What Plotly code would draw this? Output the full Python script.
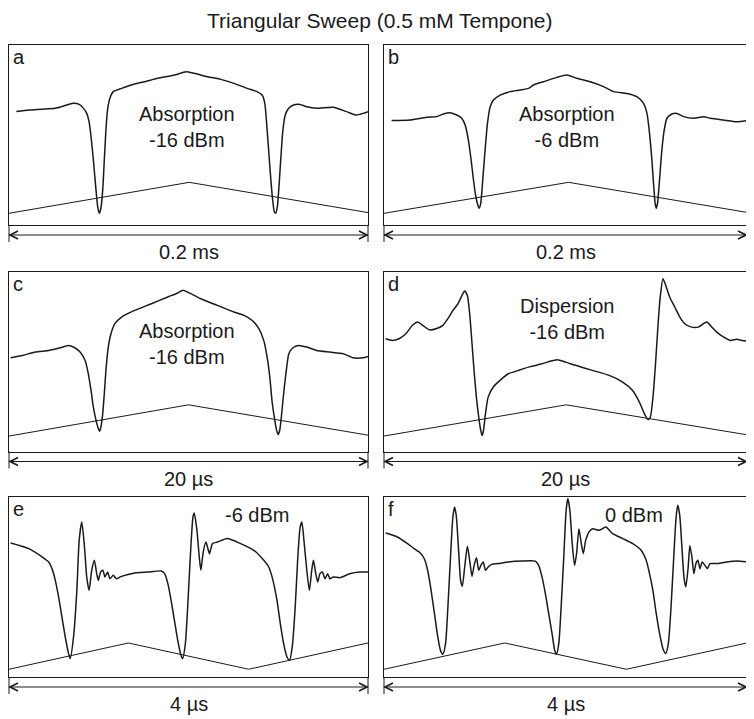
import plotly.graph_objects as go
from plotly.subplots import make_subplots

# ---------------- data ----------------
title_text = "Triangular Sweep (0.5 mM Tempone)"
panel_letters = ["a", "b", "c", "d", "e", "f"]
panel_notes = ["Absorption<br>-16 dBm", "Absorption<br>-6 dBm", "Absorption<br>-16 dBm",
               "Dispersion<br>-16 dBm", "-6 dBm", "0 dBm"]
span_labels = ["0.2 ms", "0.2 ms", "20 µs", "20 µs", "4 µs", "4 µs"]
x_spans = [200, 200, 20, 20, 4, 4]   # full sweep window, µs

# panel a (time µs, signal a.u.)
a_t = [4.1, 11.1, 18.4, 25.8, 32.3, 35.9, 39.1, 41.5, 43.3, 44.6, 45.7, 47.0, 48.3, 49.4, 50.3,
       51.2, 52.2, 53.1, 54.0, 54.9, 56.2, 58.1, 62.7, 70.0, 75.6, 82.9, 92.2, 98.6, 103.2, 110.6,
       118.0, 125.3, 132.7, 138.2, 141.0, 142.5, 143.4, 144.5, 145.6, 146.7, 147.8, 148.6, 149.5,
       150.4, 151.5, 152.6, 153.9, 155.8, 158.5, 162.2, 165.9, 171.4, 180.6, 188.0, 193.5, 197.2, 200]
a_sig = [63.0, 63.9, 64.3, 64.8, 66.7, 67.6, 67.0, 64.8, 62.0, 57.4, 49.1, 36.1, 21.3, 10.2, 6.5,
         9.3, 19.4, 36.1, 52.8, 63.9, 70.4, 74.1, 75.9, 78.3, 79.6, 81.5, 83.3, 85.2, 84.3, 82.4,
         80.9, 78.7, 75.9, 74.1, 72.2, 67.6, 58.3, 43.5, 28.7, 15.7, 7.4, 6.5, 10.2,
         21.3, 38.0, 52.8, 61.1, 64.8, 66.7, 67.0, 65.7, 64.8, 65.4, 63.0, 61.1, 62.0, 63.0]
a_sweep_t = [0, 100.4, 200]
a_sweep = [6.5, 23.7, 6.9]

# panel b
b_t = [4.2, 14.3, 23.5, 29.0, 32.7, 36.4, 40.1, 42.8, 44.7, 46.5, 48.0, 49.3, 50.6, 51.7, 52.4,
       53.3, 54.4, 55.7, 57.0, 58.5, 60.3, 64.0, 69.5, 75.0, 79.6, 82.4, 87.9, 95.2, 100.7, 106.2,
       113.6, 121.0, 126.5, 133.8, 139.3, 143.0, 144.9, 146.3, 147.6, 148.5, 149.4, 150.0, 150.7,
       151.8, 153.1, 154.4, 155.9, 158.6, 161.4, 165.1, 170.6, 176.1, 179.8, 187.1, 194.5, 200]
b_sig = [58.0, 58.3, 59.8, 60.2, 61.7, 62.4, 61.1, 59.3, 55.6, 47.2, 36.1, 25.0, 15.7, 11.1, 9.3,
         12.0, 25.0, 41.7, 56.5, 65.7, 69.4, 72.2, 74.1, 75.0, 75.9, 77.8, 79.6, 82.0, 83.3, 81.5,
         79.6, 76.9, 74.1, 73.1, 71.3, 67.6, 62.0, 50.9, 36.1, 23.1, 12.0, 9.3, 12.0,
         25.0, 41.7, 52.8, 59.3, 61.7, 62.0, 60.2, 59.3, 60.2, 59.3, 58.3, 57.4, 58.0]
b_sweep_t = [0, 101.7, 200]
b_sweep = [6.5, 23.7, 7.0]

# panel c
c_t = [0.09, 0.74, 1.47, 2.21, 2.86, 3.32, 3.59, 3.96, 4.24, 4.42, 4.57, 4.70, 4.85, 4.98, 5.05,
       5.12, 5.22, 5.31, 5.40, 5.53, 5.68, 5.90, 6.27, 7.00, 7.93, 8.85, 9.40, 9.68, 9.95, 10.69,
       11.61, 12.53, 13.09, 13.55, 13.92, 14.19, 14.38, 14.53, 14.65, 14.78, 14.89, 14.99, 15.08,
       15.17, 15.30, 15.45, 15.59, 15.82, 16.13, 16.59, 17.14, 17.88, 18.62, 19.17, 19.72, 20.0]
c_sig = [52.2, 53.5, 55.4, 56.3, 57.8, 59.1, 58.2, 55.4, 50.7, 43.3, 34.0, 24.7, 17.3, 12.6, 11.3,
         13.6, 21.0, 32.2, 45.2, 58.2, 65.6, 71.2, 74.9, 78.6, 82.3, 86.1, 88.3, 89.8, 88.8, 85.1,
         81.4, 77.7, 75.8, 73.0, 68.4, 61.9, 52.6, 41.4, 28.4, 19.1, 12.6, 9.5, 11.7,
         19.1, 32.2, 45.2, 54.5, 57.8, 59.1, 58.2, 56.3, 55.4, 54.5, 52.2, 52.2, 53.0]
c_sweep_t = [0, 10.0, 20]
c_sweep = [8.6, 26.0, 9.1]

# panel d
d_t = [0.09, 0.46, 0.83, 1.20, 1.57, 1.85, 2.13, 2.50, 2.87, 3.24, 3.52, 3.80, 4.07, 4.30, 4.44,
       4.59, 4.72, 4.85, 4.96, 5.09, 5.22, 5.33, 5.41, 5.48, 5.59, 5.74, 6.02, 6.39, 6.85, 7.41,
       7.96, 8.70, 9.54, 10.00, 10.56, 11.48, 12.41, 13.15, 13.70, 14.07, 14.35, 14.54, 14.67,
       14.82, 14.96, 15.09, 15.22, 15.37, 15.52, 15.74, 16.02, 16.30, 16.57, 16.94, 17.31, 17.78,
       18.06, 18.33, 18.70, 19.07, 19.44, 19.72, 20.0]
d_sig = [62.8, 61.9, 62.8, 65.6, 70.3, 72.1, 70.3, 67.8, 68.4, 70.3, 74.0, 78.6, 82.3, 87.0, 89.4,
         87.0, 76.8, 60.0, 45.2, 30.3, 19.1, 11.7, 8.9, 11.7, 21.0, 30.3, 35.9, 39.6, 43.3, 45.2,
         47.0, 48.9, 51.1, 49.8, 48.0, 45.2, 42.4, 38.7, 34.0, 27.5, 21.0, 17.8, 19.1,
         30.3, 48.9, 69.3, 86.1, 96.3, 92.6, 86.1, 80.5, 74.9, 71.2, 69.3, 69.3, 72.1,
         69.3, 66.5, 63.8, 61.9, 62.5, 61.9, 61.5]
d_sweep_t = [0, 10.04, 20]
d_sweep = [8.6, 26.0, 9.3]

# panel e
e_t = [0.018, 0.221, 0.369, 0.442, 0.479, 0.516, 0.553, 0.590, 0.627, 0.664, 0.682, 0.719, 0.756,
       0.782, 0.811, 0.841, 0.866, 0.892, 0.922, 0.951, 0.977, 0.995, 1.021, 1.047, 1.069, 1.099,
       1.124, 1.161, 1.198, 1.253, 1.401, 1.548, 1.696, 1.733, 1.770, 1.806, 1.843, 1.880, 1.917,
       1.935, 1.965, 1.991, 2.020, 2.050, 2.064, 2.094, 2.120, 2.138, 2.164, 2.194, 2.212, 2.234,
       2.267, 2.323, 2.433, 2.581, 2.728, 2.839, 2.894, 2.931, 2.986, 3.023, 3.060, 3.097, 3.126,
       3.156, 3.189, 3.218, 3.244, 3.263, 3.288, 3.318, 3.347, 3.373, 3.392, 3.418, 3.440, 3.465,
       3.491, 3.521, 3.550, 3.576, 3.613, 3.687, 3.797, 3.908, 4.0]
e_sig = [74.4, 71.3, 66.7, 63.9, 60.2, 53.7, 44.4, 33.3, 22.2, 13.0, 10.2, 22.2, 48.1,
         75.9, 86.1, 72.2, 55.6, 48.1, 59.3, 64.8, 57.4, 53.7, 58.3, 59.3, 55.6, 58.3,
         54.6, 56.5, 54.6, 55.9, 57.8, 58.3, 58.9, 57.4, 51.9, 42.6, 31.5, 20.4, 12.0,
         10.2, 18.5, 38.9, 66.7, 88.9, 91.1, 81.5, 66.7, 59.3, 69.4, 75.0, 72.2, 68.5,
         74.1, 75.0, 76.9, 74.1, 70.4, 64.8, 61.1, 55.6, 42.6, 29.6, 18.5, 11.1, 9.3,
         16.7, 38.9, 66.7, 83.3, 86.1, 75.0, 59.3, 48.1, 59.3, 64.8, 57.4, 52.8, 57.4,
         58.3, 54.6, 57.4, 54.6, 55.6, 55.2, 57.4, 58.3, 58.3]
e_sweep_t = [0, 1.33, 2.67, 4.0]
e_sweep = [4.3, 18.9, 4.3, 18.9]

# panel f
f_t = [0.019, 0.148, 0.259, 0.333, 0.389, 0.444, 0.481, 0.519, 0.556, 0.593, 0.622, 0.648, 0.678,
       0.704, 0.733, 0.759, 0.778, 0.796, 0.822, 0.844, 0.863, 0.889, 0.919, 0.944, 0.970, 0.993,
       1.019, 1.044, 1.067, 1.093, 1.119, 1.148, 1.185, 1.259, 1.370, 1.519, 1.667, 1.704, 1.741,
       1.778, 1.815, 1.852, 1.881, 1.900, 1.926, 1.952, 1.981, 2.007, 2.026, 2.048, 2.074, 2.100,
       2.122, 2.148, 2.174, 2.196, 2.222, 2.259, 2.296, 2.370, 2.444, 2.519, 2.630, 2.741, 2.833,
       2.889, 2.926, 2.963, 3.000, 3.037, 3.074, 3.104, 3.133, 3.163, 3.193, 3.219, 3.237, 3.259,
       3.285, 3.307, 3.326, 3.352, 3.370, 3.393, 3.415, 3.437, 3.459, 3.481, 3.507, 3.537, 3.563,
       3.593, 3.667, 3.778, 3.889, 4.0]
f_sig = [80.0, 77.8, 74.1, 71.3, 69.4, 65.7, 59.3, 48.1, 35.2, 22.2, 14.8, 12.6, 18.5,
         38.9, 66.7, 88.9, 94.4, 89.8, 70.4, 53.7, 50.4, 61.1, 72.6, 64.8, 55.9, 62.0,
         66.3, 59.3, 62.0, 63.9, 59.3, 61.1, 62.6, 63.0, 63.9, 64.4, 64.4, 62.0, 55.6,
         46.3, 35.2, 24.1, 14.8, 12.6, 18.5, 38.9, 66.7, 92.6, 99.1, 92.6, 74.1, 62.0,
         68.5, 82.4, 74.1, 68.5, 75.9, 80.6, 82.4, 81.5, 83.3, 79.6, 76.9, 74.1, 70.4,
         64.8, 57.4, 48.1, 35.2, 24.1, 15.7, 13.0, 18.5, 38.9, 66.7, 88.9, 95.4, 89.8,
         70.4, 54.6, 50.0, 61.1, 73.1, 66.7, 57.4, 63.0, 64.8, 60.2, 63.9, 62.0, 60.2,
         63.0, 63.0, 63.9, 64.4, 63.9]
f_sweep_t = [0, 1.33, 2.67, 4.0]
f_sweep = [4.3, 18.9, 4.3, 18.9]

signals = [(a_t, a_sig), (b_t, b_sig), (c_t, c_sig), (d_t, d_sig), (e_t, e_sig), (f_t, f_sig)]
sweeps = [(a_sweep_t, a_sweep), (b_sweep_t, b_sweep), (c_sweep_t, c_sweep),
          (d_sweep_t, d_sweep), (e_sweep_t, e_sweep), (f_sweep_t, f_sweep)]
for t, s in signals + sweeps:
    assert len(t) == len(s), (len(t), len(s))

# ---------------- layout (page pixels; page body has an 8px margin) ----------------
PW, PH = 754, 719
OFF = 8
W, H = PW - OFF, PH - OFF
def pxx(x): return (x - OFF) / W
def pxy(y): return 1 - (y - OFF) / H

cols = [(9, 368), (384, 747)]
rows = [(45, 225), (272, 451.5), (497, 677)]   # box top, box bottom
INK = "#1a1a1a"
FONT = "Liberation Sans, Arial, Helvetica, sans-serif"

fig = make_subplots(rows=3, cols=2)
shapes, annots = [], []
for i in range(6):
    r, c = divmod(i, 2)
    L, R = cols[c]
    top, bot = rows[r]
    xa = "xaxis" if i == 0 else f"xaxis{i+1}"
    ya = "yaxis" if i == 0 else f"yaxis{i+1}"
    fig.layout[xa].update(domain=[pxx(L), pxx(R)], range=[0, x_spans[i]], showgrid=False,
                          zeroline=False, showticklabels=False, ticks="", showline=True,
                          mirror=True, linecolor=INK, linewidth=1, fixedrange=True)
    fig.layout[ya].update(domain=[pxy(bot), pxy(top)], range=[0, 100], showgrid=False,
                          zeroline=False, showticklabels=False, ticks="", showline=True,
                          mirror=True, linecolor=INK, linewidth=1, fixedrange=True)
    t, s = signals[i]
    fig.add_trace(go.Scatter(x=t, y=s, mode="lines",
                             line=dict(color=INK, width=1.5, shape="spline", smoothing=0.6),
                             showlegend=False, hoverinfo="skip"), row=r+1, col=c+1)
    st, sw = sweeps[i]
    fig.add_trace(go.Scatter(x=st, y=sw, mode="lines", line=dict(color=INK, width=1),
                             showlegend=False, hoverinfo="skip"), row=r+1, col=c+1)

    # span arrow below the box
    ay = bot + 10
    line = dict(color=INK, width=1)
    shapes.append(dict(type="line", xref="paper", yref="paper", x0=pxx(L), x1=pxx(R),
                       y0=pxy(ay), y1=pxy(ay), line=line))
    for xe in (L, R):
        shapes.append(dict(type="line", xref="paper", yref="paper", x0=pxx(xe), x1=pxx(xe),
                           y0=pxy(bot), y1=pxy(bot + 17), line=line))
    for xe, d in ((L, 1), (R, -1)):
        path = (f"M{pxx(xe + d*9)},{pxy(ay - 4)} L{pxx(xe + d*1)},{pxy(ay)} "
                f"L{pxx(xe + d*9)},{pxy(ay + 4)}")
        shapes.append(dict(type="path", xref="paper", yref="paper", path=path,
                           line=dict(color=INK, width=1.6)))
    cx = (L + R) / 2
    annots.append(dict(x=pxx(cx), y=pxy(bot + 27), xref="paper", yref="paper",
                       text=span_labels[i], showarrow=False, xanchor="center", yanchor="middle",
                       font=dict(size=20, color=INK, family=FONT)))
    # panel letter
    annots.append(dict(x=pxx(L + 2), y=pxy(top + 12), xref="paper", yref="paper",
                       text=panel_letters[i], showarrow=False, xanchor="left", yanchor="middle",
                       font=dict(size=20, color=INK, family=FONT)))

# panel notes
note_pos = [(187, 127), (567, 127), (187, 344), (567, 319), (257, 515), (634, 515)]
for i, (nx, ny) in enumerate(note_pos):
    annots.append(dict(x=pxx(nx), y=pxy(ny), xref="paper", yref="paper", text=panel_notes[i],
                       showarrow=False, xanchor="center", yanchor="middle",
                       font=dict(size=20, color=INK, family=FONT)))

annots.append(dict(x=pxx(380), y=pxy(21), xref="paper", yref="paper", text=title_text,
                   showarrow=False, xanchor="center", yanchor="middle", borderpad=0,
                   font=dict(size=21, color=INK, family=FONT)))

fig.update_layout(width=W, height=H, margin=dict(l=0, r=0, t=0, b=0),
                  paper_bgcolor="white", plot_bgcolor="white",
                  shapes=shapes, annotations=annots, showlegend=False)
fig.write_html("out.html", config={"displayModeBar": False})
